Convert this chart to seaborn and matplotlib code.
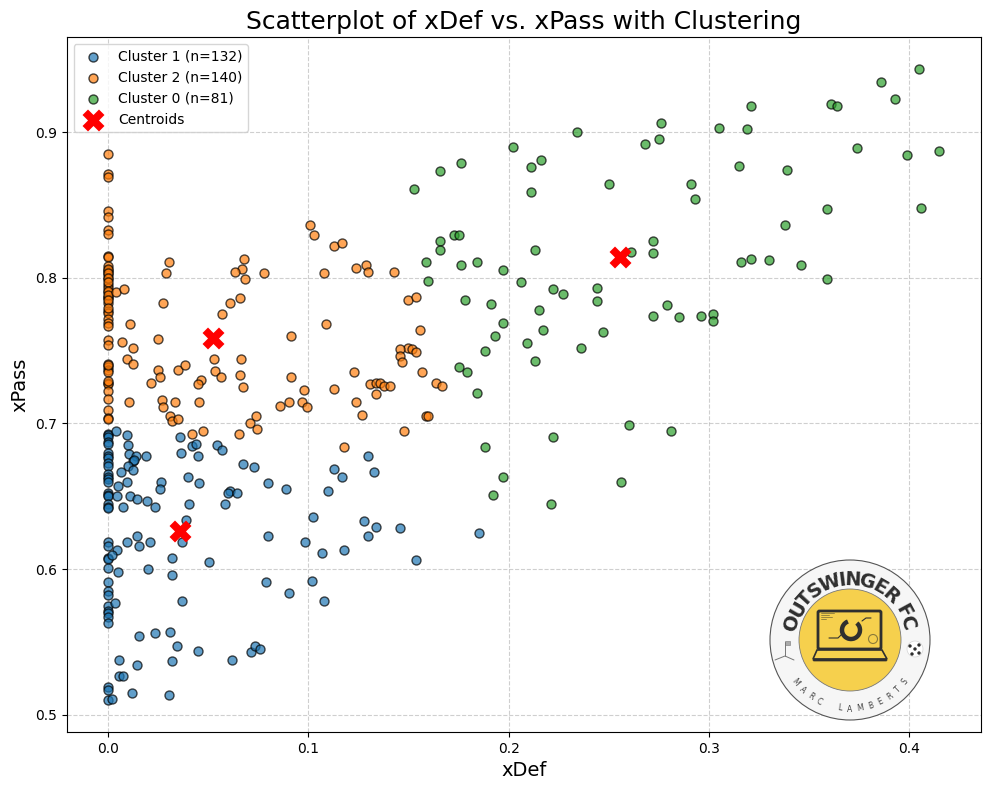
import numpy as np
import pandas as pd
import matplotlib
matplotlib.use("Agg")
import matplotlib.pyplot as plt
import seaborn as sns
from matplotlib.patches import Circle, Arc, FancyBboxPatch, Polygon

# x=0 column first, then the rest
cluster1_points = [
    (0, .693), (0, .692), (0, .691), (0, .687), (0, .686), (0, .680), (0, .678), (0, .676), (0, .673), (0, .671),
    (0, .665), (0, .663), (0, .662), (0, .660), (0, .652), (0, .651), (0, .650), (0, .645), (0, .643), (0, .642),
    (0, .619), (0, .616), (0, .608), (0, .607), (0, .601), (0, .591), (0, .585), (0, .582), (0, .575), (0, .571),
    (0, .570), (0, .567), (0, .563), (0, .519), (0, .517), (0, .510),
    (.004, .695), (.0097, .692), (.036, .691), (.010, .685), (.042, .6845), (.044, .686), (.0545, .685), (.057, .682),
    (.0365, .680), (.045, .678), (.0105, .679), (.014, .678), (.019, .678), (.0125, .674), (.013, .675), (.010, .671),
    (.0125, .668), (.0065, .667), (.0675, .672), (.073, .670), (.040, .663), (.0455, .659), (.080, .659), (.089, .655),
    (.0095, .660), (.005, .657), (.0265, .660), (.026, .655), (.061, .654), (.060, .652), (.0645, .652), (.0045, .650),
    (.011, .650), (.0145, .648), (.0195, .647), (.0235, .643), (.0075, .643), (.0405, .645), (.0585, .645), (.039, .634),
    (.080, .623), (.0985, .619), (.0145, .623), (.0095, .619), (.021, .619), (.0155, .616), (.037, .619), (.0045, .613),
    (.002, .610), (.032, .608), (.0505, .605), (.005, .598), (.020, .600), (.032, .596), (.0035, .577), (.037, .578),
    (.079, .591), (.0905, .584), (.0155, .554), (.0235, .556), (.031, .557), (.0345, .547), (.045, .544), (.062, .538),
    (.0715, .543), (.0735, .547), (.076, .545), (.0055, .538), (.032, .537), (.0145, .534), (.0055, .527), (.0075, .527),
    (.012, .515), (.0305, .514), (.002, .511),
    (.1025, .636), (.113, .669), (.110, .654), (.117, .663), (.130, .678), (.133, .667), (.128, .633), (.134, .629),
    (.130, .623), (.146, .628), (.154, .606), (.107, .611), (.118, .613), (.102, .592), (.108, .578), (.185, .625),
]
cluster2_points = [
    (0, .885), (0, .871), (0, .869), (0, .846), (0, .842), (0, .833), (0, .830), (0, .815), (0, .814), (0, .808),
    (0, .805), (0, .804), (0, .802), (0, .799), (0, .795), (0, .793), (0, .790), (0, .787), (0, .786), (0, .783),
    (0, .777), (0, .776), (0, .772), (0, .769), (0, .767), (0, .757), (0, .754), (0, .741), (0, .739), (0, .737),
    (0, .735), (0, .728), (0, .727), (0, .722), (0, .717), (0, .709), (0, .704), (0, .703),
    (0, .806), (0, .803), (0, .800), (0, .797), (0, .791), (0, .788), (0, .785), (0, .779), (0, .740), (0, .729),
    (.004, .790), (.008, .792), (.0276, .783), (.0305, .811), (.029, .803), (.068, .813), (.067, .806), (.0635, .804),
    (.0685, .799), (.078, .803), (.066, .786), (.061, .783), (.057, .775), (.011, .768), (.025, .758), (.007, .756),
    (.0125, .752), (.0096, .744), (.0125, .741), (.053, .744), (.0665, .744), (.0915, .760), (.025, .737), (.035, .737),
    (.0385, .740), (.026, .732), (.0215, .728), (.0535, .736), (.0565, .732), (.066, .733), (.0915, .732), (.0465, .730),
    (.045, .727), (.0675, .725), (.098, .723), (.0105, .715), (.027, .716), (.0335, .715), (.0455, .715), (.086, .712),
    (.0905, .715), (.097, .715), (.0995, .711), (.0275, .711), (.031, .705), (.032, .702), (.035, .703), (.074, .705),
    (.071, .700), (.0745, .696), (.042, .693), (.0475, .695), (.0655, .693),
    (.101, .836), (.103, .829), (.113, .822), (.117, .824), (.108, .803), (.124, .807), (.129, .809), (.130, .804),
    (.143, .804), (.150, .785), (.154, .787), (.156, .764), (.109, .768), (.150, .752), (.152, .751), (.154, .749),
    (.146, .751), (.146, .746), (.147, .742), (.157, .735), (.123, .735), (.131, .727), (.134, .728), (.136, .728),
    (.138, .726), (.141, .726), (.134, .720), (.113, .724), (.124, .715), (.127, .706), (.164, .728), (.167, .726),
    (.159, .705), (.160, .705), (.148, .695), (.118, .684),
]
cluster0_points = [
    (.153, .861), (.166, .873), (.176, .879), (.202, .890), (.211, .876), (.216, .881), (.211, .859), (.234, .900),
    (.250, .864), (.268, .892), (.275, .895), (.276, .906), (.305, .903), (.315, .877), (.319, .902), (.321, .918),
    (.339, .874), (.361, .919), (.364, .918), (.374, .889), (.386, .934), (.393, .923), (.405, .943), (.399, .884),
    (.415, .887), (.406, .848), (.359, .847), (.338, .836), (.291, .864), (.293, .854), (.272, .825), (.272, .817),
    (.261, .818), (.316, .811), (.321, .813), (.330, .812), (.346, .809), (.359, .799),
    (.166, .825), (.166, .819), (.173, .829), (.175, .829), (.159, .811), (.176, .809), (.184, .811), (.197, .805),
    (.213, .819), (.160, .798), (.178, .785), (.191, .782), (.206, .797), (.222, .792), (.227, .789), (.244, .793),
    (.244, .784), (.215, .778), (.197, .769), (.217, .764), (.193, .760), (.209, .755), (.188, .750), (.236, .752),
    (.247, .763), (.272, .774), (.279, .781), (.285, .773), (.296, .774), (.302, .775), (.302, .770), (.213, .743),
    (.175, .739), (.179, .735), (.184, .721), (.188, .684), (.222, .691), (.260, .699), (.281, .695), (.197, .663),
    (.192, .651), (.256, .660), (.221, .645),
]
centroid_x = [.0525, .036, .2555]
centroid_y = [.759, .626, .814]
cluster_labels = ["Cluster 1 (n=132)", "Cluster 2 (n=140)", "Cluster 0 (n=81)"]

sns.set_style("white")
plt.rcParams["font.family"] = ["DejaVu Sans"]
plt.rcParams["text.color"] = "black"
plt.rcParams["axes.labelcolor"] = "black"
plt.rcParams["axes.titlecolor"] = "black"
fig = plt.figure(figsize=(9.89, 7.9), dpi=100)
ax = fig.add_axes([66.7 / 989, 1 - 732 / 790, 914 / 989, 694.7 / 790])

#one scatter per cluster, blue, orange, green
for pts, lab, col in zip([cluster1_points, cluster2_points, cluster0_points], cluster_labels, sns.color_palette("tab10", 3)):
    d = pd.DataFrame(pts, columns=["xDef", "xPass"])
    sns.scatterplot(data=d, x="xDef", y="xPass", color=col, s=42, alpha=0.7, edgecolor="k", linewidth=1, label=lab, ax=ax)
sns.scatterplot(x=centroid_x, y=centroid_y, color="red", marker="X", s=250, linewidth=0, label="Centroids", ax=ax, zorder=5)

ax.set_xlim(-0.0206, 0.4357)
ax.set_ylim(0.4883, 0.965)
ax.set_xticks([0, .1, .2, .3, .4])
ax.set_yticks([.5, .6, .7, .8, .9])
ax.set_title("Scatterplot of xDef vs. xPass with Clustering", fontsize=18)
ax.set_xlabel("xDef", fontsize=14)
ax.set_ylabel("xPass", fontsize=14)
ax.tick_params(left=True, bottom=True, labelsize=10, colors="black")
ax.grid(True, linestyle="--", alpha=0.6, color="#b0b0b0")
ax.set_axisbelow(True)
for s in ax.spines.values():
    s.set_color("black")
    s.set_linewidth(0.8)
ax.legend(loc="upper left", fontsize=10)

# logo badge on an overlay, in pixel coords
lg = fig.add_axes([0, 0, 1, 1], zorder=10)
lg.set_xlim(0, 989)
lg.set_ylim(790, 0)
lg.axis("off")
cx, cy = 850, 640
dark = "#2f2f2f"
lg.add_patch(Circle((cx, cy), 80, fc="#f6f6f6", ec="#555555", lw=0.8))
lg.add_patch(Circle((cx, cy), 51, fc="#f6d04d", ec="#777777", lw=0.6))

# curved text, one letter at a time
word = "OUTSWINGER FC"
w = np.array([1.6 if c == "W" else 1.2 if c in "OGN" else 0.5 if c == "I" else 0.6 if c == " " else 1.05 for c in word])
edges = np.cumsum(np.r_[0, w]) / w.sum()
mids = (edges[:-1] + edges[1:]) / 2
for c, m in zip(word, mids):
    a = 170 - m * 160
    r = 60
    lg.text(cx + r * np.cos(np.radians(a)), cy - r * np.sin(np.radians(a)), c, rotation=a - 90,
            ha="center", va="center", rotation_mode="anchor", fontsize=14, fontweight="bold", color=dark)
word = "MARC LAMBERTS"
for i, c in enumerate(word):
    a = 217.5 + i * (322.5 - 217.5) / (len(word) - 1)
    r = 69
    lg.text(cx + r * np.cos(np.radians(a)), cy - r * np.sin(np.radians(a)), c, rotation=a + 90,
            ha="center", va="center", rotation_mode="anchor", fontsize=5.5, color="#444444")

# laptop
lg.add_patch(FancyBboxPatch((818, 611), 63, 38, boxstyle="round,pad=0,rounding_size=1.5", fc="#f6d04d", ec=dark, lw=2))
lg.add_patch(Polygon([(817, 650), (882, 650), (887, 659), (813, 659)], closed=True, fc="#f6d04d", ec=dark, lw=1.2))
lg.add_patch(FancyBboxPatch((813, 659), 74, 2, boxstyle="round,pad=0,rounding_size=1", fc=dark, ec=dark, lw=0.5))
lg.add_patch(Arc((851, 630), 18, 18, theta1=-50, theta2=250, ec=dark, lw=3.2))
lg.plot([829, 838, 842], [638, 638, 634], color=dark, lw=0.8)
lg.plot([862, 866, 871], [621, 618, 618], color=dark, lw=0.8)
lg.add_patch(Circle((873, 639), 4.5, fc="none", ec="#8a7a3a", lw=0.8))
for yy, x2 in zip([613, 615, 617, 619], [834, 829, 832, 826]):
    lg.plot([821, x2], [yy, yy], color="#8a7a3a", lw=0.6)
# flag and ball
lg.plot([785, 785], [642, 656], color="#777777", lw=0.7)
lg.plot([775, 785, 794], [660, 656, 660], color="#777777", lw=0.7)
lg.add_patch(plt.Rectangle((785, 641), 5, 4, fc="#aaaaaa", ec="#777777", lw=0.4))
lg.add_patch(Circle((915, 649), 8, fc="white", ec="#cccccc", lw=0.4))
for dx, dy in [(0, 0), (-5, -3), (4, -4), (-3, 5), (4, 4)]:
    lg.add_patch(Circle((915 + dx, 649 + dy), 1.7, fc=dark, ec="none"))

fig.savefig("out.png", dpi=100)
